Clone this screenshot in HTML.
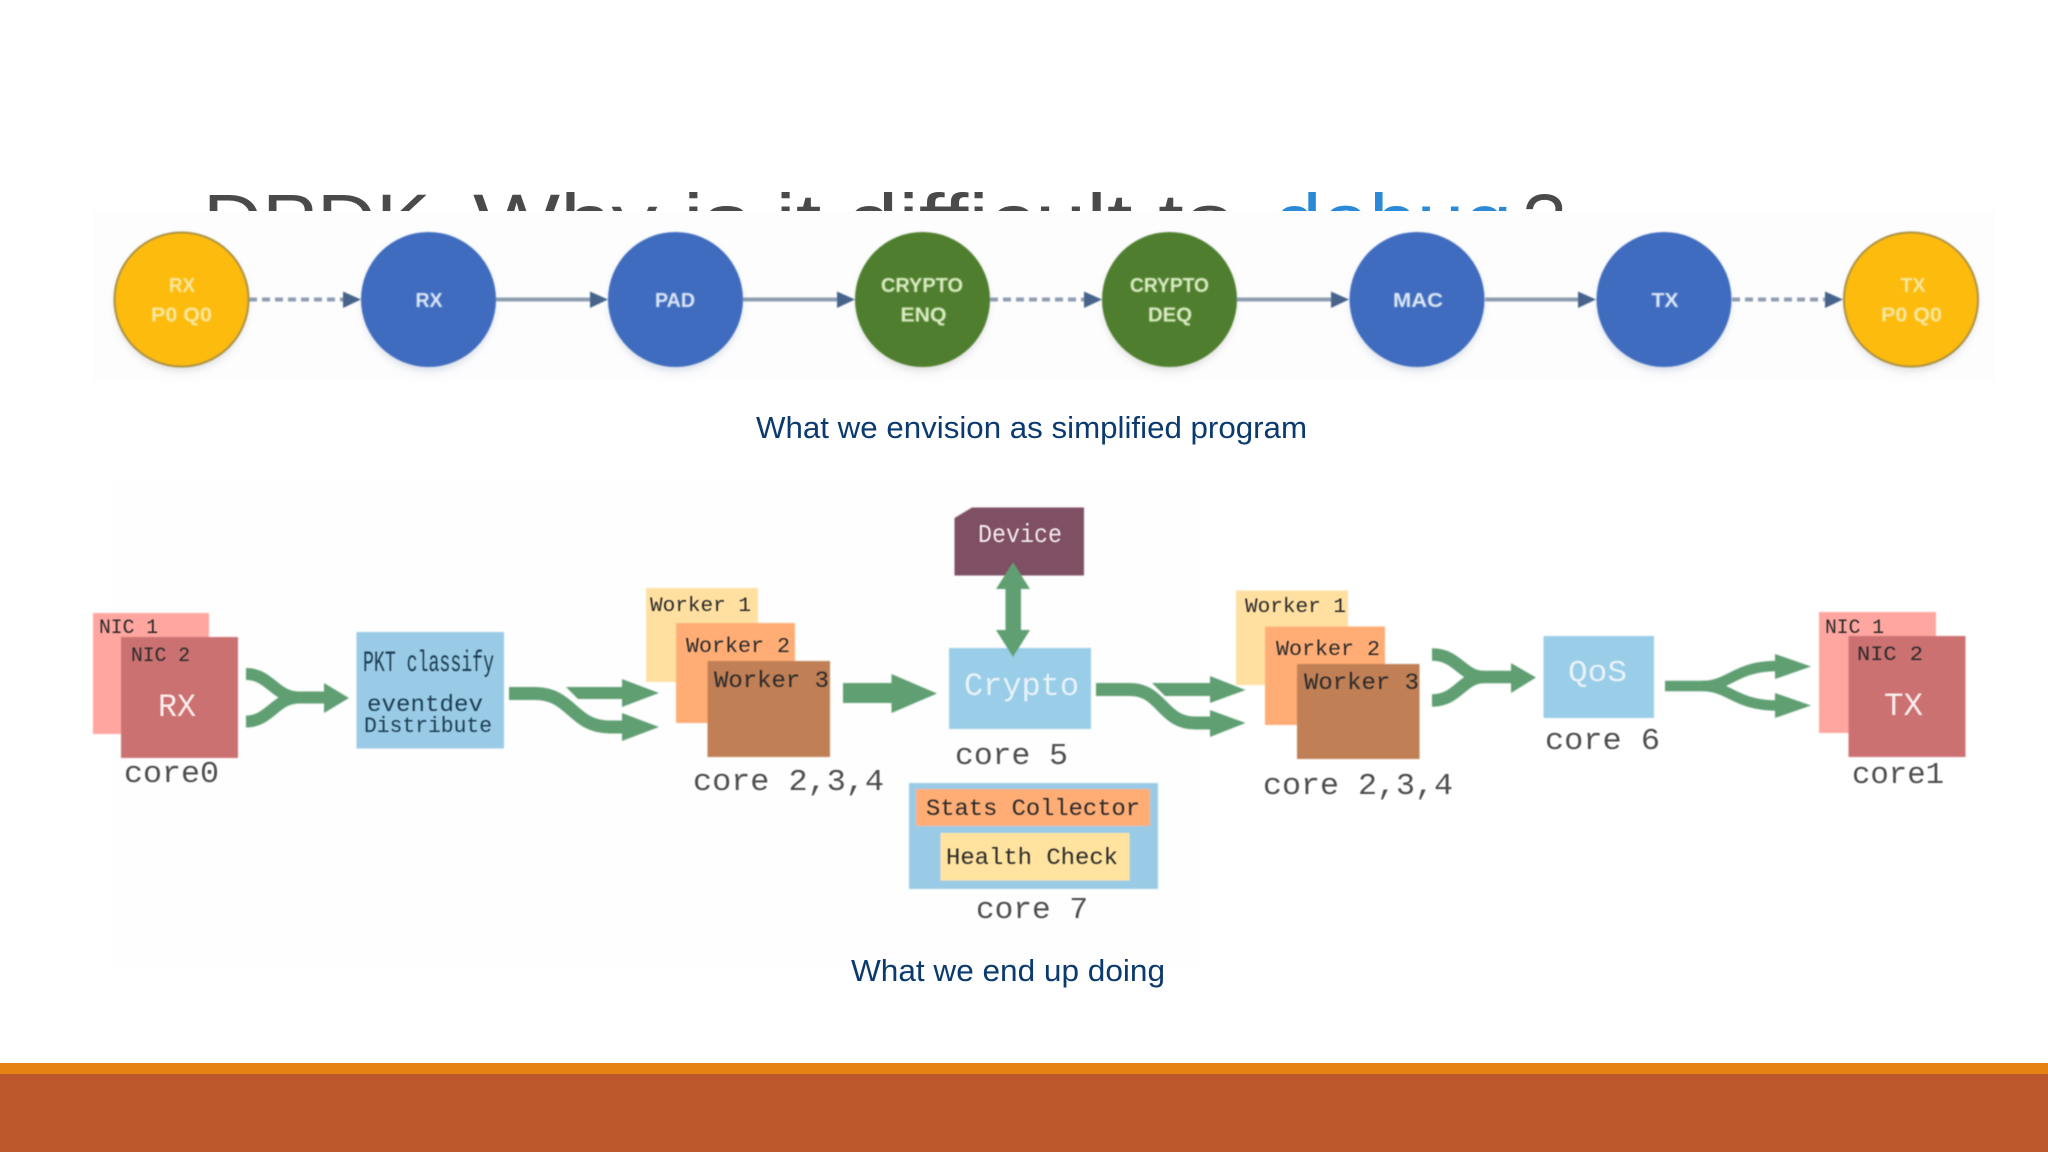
<!DOCTYPE html>
<html lang="en"><head><meta charset="utf-8"><title>DPDK diagram</title>
<style>
html,body{margin:0;padding:0;background:#fff;width:2048px;height:1152px;overflow:hidden}
svg{display:block}
.m{font-family:"Liberation Mono",monospace;fill:#2b2b2b}
.c{font-family:"Liberation Mono",monospace;fill:#4f4f4f;font-size:31px}
.n{font-family:"Liberation Sans",sans-serif;font-size:20px;font-weight:bold}
.cap{font-family:"Liberation Sans",sans-serif;font-size:31px;fill:#0b3a6e}
.t{font-family:"Liberation Sans",sans-serif;font-size:74px;fill:#4a4a4a}
.g{fill:none;stroke:#5f9f72}
.gf{fill:#5f9f72}
</style></head><body>
<svg width="2048" height="1152" viewBox="0 0 2048 1152" xmlns="http://www.w3.org/2000/svg">
<defs>
<filter id="b" x="-5%" y="-5%" width="110%" height="110%"><feGaussianBlur stdDeviation="0.7"/></filter>
<filter id="s" x="-20%" y="-20%" width="140%" height="140%"><feGaussianBlur stdDeviation="4"/></filter>
<filter id="bt" x="-5%" y="-20%" width="110%" height="140%"><feGaussianBlur stdDeviation="0.4"/></filter>
<filter id="bn" x="-10%" y="-30%" width="120%" height="160%"><feGaussianBlur stdDeviation="0.7"/></filter>
</defs>
<rect width="2048" height="1152" fill="#fff"/>

<!-- clipped title -->
<text class="t" x="203" y="246" textLength="255" lengthAdjust="spacingAndGlyphs">DPDK-</text>
<text class="t" x="473" y="246" textLength="762" lengthAdjust="spacingAndGlyphs">Why is it difficult to</text>
<text class="t" x="1274" y="246" textLength="238" lengthAdjust="spacingAndGlyphs" style="fill:#2a8ad8">debug</text>
<text class="t" x="1523" y="246" textLength="42" lengthAdjust="spacingAndGlyphs">?</text>

<!-- image bands -->
<rect x="93" y="211" width="1902" height="171" fill="#fdfdfe"/>
<rect x="0" y="382" width="2048" height="680" fill="#fff"/>
<rect x="110" y="480" width="1090" height="490" fill="#fefefe"/>

<!-- top row -->
<g filter="url(#s)" opacity="0.35">
<ellipse cx="181.5" cy="304" rx="66" ry="67" fill="#aaa"/>
<ellipse cx="428.5" cy="304" rx="66" ry="67" fill="#9ab"/>
<ellipse cx="675.5" cy="304" rx="66" ry="67" fill="#9ab"/>
<ellipse cx="922.5" cy="304" rx="66" ry="67" fill="#aaa"/>
<ellipse cx="1169.5" cy="304" rx="66" ry="67" fill="#aaa"/>
<ellipse cx="1417" cy="304" rx="66" ry="67" fill="#9ab"/>
<ellipse cx="1664" cy="304" rx="66" ry="67" fill="#9ab"/>
<ellipse cx="1911" cy="304" rx="66" ry="67" fill="#aaa"/>
</g>
<g filter="url(#b)">
<g stroke="#8d9db0" stroke-width="4" fill="none">
<line x1="249" y1="299.5" x2="345" y2="299.5" stroke-dasharray="8 5"/>
<line x1="496" y1="299.5" x2="592" y2="299.5"/>
<line x1="743" y1="299.5" x2="839" y2="299.5"/>
<line x1="990" y1="299.5" x2="1086" y2="299.5" stroke-dasharray="8 5"/>
<line x1="1237" y1="299.5" x2="1333" y2="299.5"/>
<line x1="1485" y1="299.5" x2="1580" y2="299.5"/>
<line x1="1732" y1="299.5" x2="1827" y2="299.5" stroke-dasharray="8 5"/>
</g>
<g fill="#46648a">
<polygon points="343,291.5 361,299.5 343,308"/>
<polygon points="590,291.5 608,299.5 590,308"/>
<polygon points="837,291.5 855,299.5 837,308"/>
<polygon points="1084,291.5 1102,299.5 1084,308"/>
<polygon points="1331,291.5 1349,299.5 1331,308"/>
<polygon points="1578,291.5 1596,299.5 1578,308"/>
<polygon points="1825,291.5 1843,299.5 1825,308"/>
</g>
<circle cx="181.5" cy="299.5" r="67" fill="#fdbb0a" stroke="#a98f3a" stroke-width="2"/>
<circle cx="428.5" cy="299.5" r="67.5" fill="#3f6cbf"/>
<circle cx="675.5" cy="299.5" r="67.5" fill="#3f6cbf"/>
<circle cx="922.5" cy="299.5" r="67.5" fill="#4f7f2f"/>
<circle cx="1169.5" cy="299.5" r="67.5" fill="#4f7f2f"/>
<circle cx="1417" cy="299.5" r="67.5" fill="#3f6cbf"/>
<circle cx="1664" cy="299.5" r="67.5" fill="#3f6cbf"/>
<circle cx="1911" cy="299.5" r="67" fill="#fdbb0a" stroke="#a98f3a" stroke-width="2"/>
</g>
<g filter="url(#bn)">
<text class="n" fill="#f7e7a0" x="169" y="292" textLength="26" lengthAdjust="spacingAndGlyphs">RX</text>
<text class="n" fill="#f7e7a0" x="151" y="321.5" textLength="61" lengthAdjust="spacingAndGlyphs">P0 Q0</text>
<text class="n" fill="#dce8f6" x="415.5" y="307" textLength="27" lengthAdjust="spacingAndGlyphs">RX</text>
<text class="n" fill="#dce8f6" x="655" y="307" textLength="40" lengthAdjust="spacingAndGlyphs">PAD</text>
<text class="n" fill="#dcecc4" x="881" y="292" textLength="82" lengthAdjust="spacingAndGlyphs">CRYPTO</text>
<text class="n" fill="#dcecc4" x="900.5" y="321.5" textLength="46" lengthAdjust="spacingAndGlyphs">ENQ</text>
<text class="n" fill="#dcecc4" x="1130" y="292" textLength="79" lengthAdjust="spacingAndGlyphs">CRYPTO</text>
<text class="n" fill="#dcecc4" x="1148" y="321.5" textLength="44" lengthAdjust="spacingAndGlyphs">DEQ</text>
<text class="n" fill="#dce8f6" x="1393" y="307" textLength="50" lengthAdjust="spacingAndGlyphs">MAC</text>
<text class="n" fill="#dce8f6" x="1651.5" y="307" textLength="27" lengthAdjust="spacingAndGlyphs">TX</text>
<text class="n" fill="#f7e7a0" x="1900.5" y="292" textLength="25" lengthAdjust="spacingAndGlyphs">TX</text>
<text class="n" fill="#f7e7a0" x="1881" y="321.5" textLength="61" lengthAdjust="spacingAndGlyphs">P0 Q0</text>
</g>

<text class="cap" x="756" y="438" textLength="551" lengthAdjust="spacingAndGlyphs">What we envision as simplified program</text>
<text class="cap" x="851" y="981" textLength="314" lengthAdjust="spacingAndGlyphs">What we end up doing</text>

<!-- lower diagram -->
<g filter="url(#b)">
<!-- RX -->
<rect x="93" y="613" width="116" height="121" fill="#ffa6a0"/>
<rect x="121" y="637" width="117" height="121" fill="#cc7171"/>
<!-- PKT -->
<rect x="356.5" y="632" width="147.5" height="116.5" fill="#9acbe6"/>
<!-- workers 1 -->
<rect x="646" y="588" width="112" height="94" fill="#ffe0a0"/>
<rect x="676" y="623" width="119" height="100" fill="#ffad75"/>
<rect x="707.5" y="661" width="122.5" height="96" fill="#c07f55"/>
<!-- device -->
<polygon points="972,507.5 1084,507.5 1084,575.5 954.5,575.5 954.5,518" fill="#7f4f63"/>
<!-- crypto -->
<rect x="949" y="648" width="142" height="81" fill="#9acde8"/>
<!-- stats -->
<rect x="909" y="783" width="249" height="106" fill="#9acbe6"/>
<rect x="916" y="789" width="234" height="37" fill="#ffad75"/>
<rect x="940.5" y="833" width="189" height="47.5" fill="#ffe39f"/>
<!-- workers 2 -->
<rect x="1236" y="590.5" width="112" height="94.5" fill="#ffe0a0"/>
<rect x="1265" y="626.5" width="120" height="98.5" fill="#ffad75"/>
<rect x="1297" y="664" width="122.5" height="95" fill="#c07f55"/>
<!-- QoS -->
<rect x="1543.5" y="636" width="110.5" height="82" fill="#9acde8"/>
<!-- TX -->
<rect x="1819" y="612" width="117" height="121" fill="#ffa6a0"/>
<rect x="1848.5" y="636" width="117" height="121" fill="#cc7171"/>

<!-- arrow 1 -->
<path class="g" stroke-width="12" d="M246 674 C270 674 275 697.5 299 697.5 L326 697.5"/>
<path class="g" stroke-width="12" d="M246 721.5 C270 721.5 275 697.5 299 697.5"/>
<polygon class="gf" points="324,683 349,698 324,713"/>
<!-- arrow 2 -->
<path class="g" stroke-width="13" d="M509 693.5 L535 693.5 C572 693.5 572 727 610 727 L625 727"/>
<polygon class="gf" points="566,687 622,687 622,679 659,693 622,707 622,699 578,699"/>
<polygon class="gf" points="622,713 659,727 622,741"/>
<!-- arrow 3 -->
<polygon class="gf" points="843,683 891.5,683 891.5,674 937,693.5 891.5,713 891.5,703 843,703"/>
<!-- double arrow -->
<polygon class="gf" points="1013,562.5 1030,589 1021,589 1021,630 1030,630 1013,657 996,630 1005.5,630 1005.5,589 996,589"/>
<!-- arrow 4 -->
<path class="g" stroke-width="13" d="M1096 689.5 L1130 689.5 C1162 689.5 1162 723 1195 723 L1212 723"/>
<polygon class="gf" points="1152,683 1210,683 1210,676 1245.5,690 1210,703 1210,696 1165,696"/>
<polygon class="gf" points="1210,710 1245.5,723 1210,737"/>
<!-- arrow 5 -->
<path class="g" stroke-width="12.5" d="M1432 654.5 C1458 654.5 1462 677 1484 677 L1513 677"/>
<path class="g" stroke-width="12.5" d="M1432 700.5 C1458 700.5 1462 677 1484 677"/>
<polygon class="gf" points="1511,663 1536,677.5 1511,693"/>
<!-- arrow 6 -->
<path class="g" stroke-width="10.5" d="M1665 686 L1702 686 C1730 686 1735 666 1777 666"/>
<path class="g" stroke-width="10.5" d="M1702 686 C1730 686 1735 705.5 1777 705.5"/>
<polygon class="gf" points="1775,654 1811,666.5 1775,679"/>
<polygon class="gf" points="1775,693 1811,705.5 1775,718"/>
</g>

<g filter="url(#bt)">
<text class="m" font-size="20" x="99" y="633" textLength="59" lengthAdjust="spacingAndGlyphs">NIC 1</text>
<text class="m" font-size="20" x="131" y="661" textLength="59" lengthAdjust="spacingAndGlyphs">NIC 2</text>
<text class="m" font-size="32" style="fill:#fbeeee" x="158" y="716" textLength="38" lengthAdjust="spacingAndGlyphs">RX</text>
<text class="c" x="124" y="782" textLength="95" lengthAdjust="spacingAndGlyphs">core0</text>

<text class="m" font-size="30" style="fill:#1d3d52" x="363" y="671" textLength="131" lengthAdjust="spacingAndGlyphs">PKT classify</text>
<text class="m" font-size="23" style="fill:#1d3d52" x="367" y="711" textLength="116" lengthAdjust="spacingAndGlyphs">eventdev</text>
<text class="m" font-size="22" style="fill:#1d3d52" x="364" y="732" textLength="128" lengthAdjust="spacingAndGlyphs">Distribute</text>

<text class="m" font-size="20" x="650" y="611" textLength="101" lengthAdjust="spacingAndGlyphs">Worker 1</text>
<text class="m" font-size="21" x="686" y="652" textLength="104" lengthAdjust="spacingAndGlyphs">Worker 2</text>
<text class="m" font-size="23" x="714" y="687" textLength="115" lengthAdjust="spacingAndGlyphs">Worker 3</text>
<text class="c" x="693" y="790" textLength="191" lengthAdjust="spacingAndGlyphs">core 2,3,4</text>

<text class="m" font-size="26" style="fill:#f3e9ee" x="978" y="542" textLength="84" lengthAdjust="spacingAndGlyphs">Device</text>
<text class="m" font-size="32" style="fill:#e8f3fa" x="964" y="695" textLength="115" lengthAdjust="spacingAndGlyphs">Crypto</text>
<text class="c" x="955" y="764" textLength="113" lengthAdjust="spacingAndGlyphs">core 5</text>

<text class="m" font-size="23" x="926" y="815" textLength="214" lengthAdjust="spacingAndGlyphs">Stats Collector</text>
<text class="m" font-size="23" x="946" y="864" textLength="172" lengthAdjust="spacingAndGlyphs">Health Check</text>
<text class="c" x="976" y="918" textLength="112" lengthAdjust="spacingAndGlyphs">core 7</text>

<text class="m" font-size="20" x="1245" y="612" textLength="101" lengthAdjust="spacingAndGlyphs">Worker 1</text>
<text class="m" font-size="21" x="1276" y="655" textLength="104" lengthAdjust="spacingAndGlyphs">Worker 2</text>
<text class="m" font-size="23" x="1304" y="689" textLength="115" lengthAdjust="spacingAndGlyphs">Worker 3</text>
<text class="c" x="1263" y="794" textLength="190" lengthAdjust="spacingAndGlyphs">core 2,3,4</text>

<text class="m" font-size="31" style="fill:#e8f3fa" x="1568" y="681" textLength="59" lengthAdjust="spacingAndGlyphs">QoS</text>
<text class="c" x="1545" y="749" textLength="115" lengthAdjust="spacingAndGlyphs">core 6</text>

<text class="m" font-size="20" x="1825" y="633" textLength="59" lengthAdjust="spacingAndGlyphs">NIC 1</text>
<text class="m" font-size="20" x="1857" y="660" textLength="66" lengthAdjust="spacingAndGlyphs">NIC 2</text>
<text class="m" font-size="32" style="fill:#fbeeee" x="1884" y="715" textLength="39" lengthAdjust="spacingAndGlyphs">TX</text>
<text class="c" x="1852" y="783" textLength="92" lengthAdjust="spacingAndGlyphs">core1</text>
</g>

<!-- footer -->
<rect x="0" y="1063" width="2048" height="11" fill="#e48312"/>
<rect x="0" y="1074" width="2048" height="78" fill="#bd582c"/>
</svg>
</body></html>
